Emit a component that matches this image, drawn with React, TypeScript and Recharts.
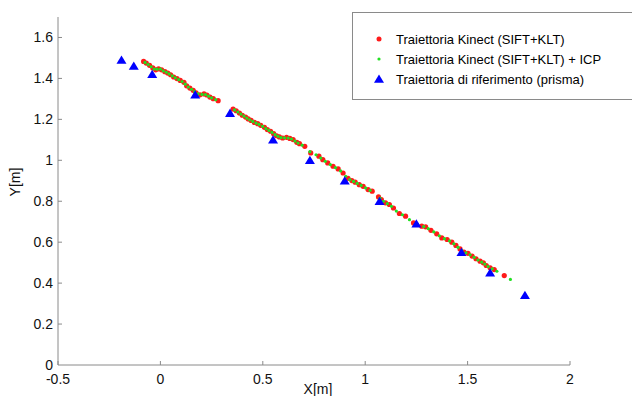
import React from "react";
import { Legend, Scatter, ScatterChart, XAxis, YAxis } from "recharts";

const FONT = '"Liberation Sans", Arial, sans-serif';
const AXIS_COLOR = "#8a8a8a";

const X_TICKS = [-0.5, 0, 0.5, 1, 1.5, 2];
const Y_TICKS = [0, 0.2, 0.4, 0.6, 0.8, 1, 1.2, 1.4, 1.6];

const SERIES_NAMES = [
  "Traiettoria Kinect (SIFT+KLT)",
  "Traiettoria Kinect (SIFT+KLT) + ICP",
  "Traiettoria di riferimento (prisma)",
];

// Traiettoria Kinect (SIFT+KLT)
const KINECT: [number, number][] = [
  [-0.082, 1.483], [-0.069, 1.475], [-0.053, 1.464], [-0.037, 1.451], [-0.023, 1.442],
  [-0.009, 1.447], [0.006, 1.442], [0.022, 1.433], [0.036, 1.426], [0.05, 1.418],
  [0.065, 1.407], [0.081, 1.399], [0.097, 1.39], [0.115, 1.381], [0.128, 1.364],
  [0.144, 1.353], [0.16, 1.342], [0.174, 1.329], [0.193, 1.32], [0.213, 1.324],
  [0.227, 1.319], [0.242, 1.309], [0.258, 1.301], [0.282, 1.291],
  [0.355, 1.25], [0.37, 1.242], [0.386, 1.231], [0.4, 1.22], [0.416, 1.211],
  [0.429, 1.202], [0.443, 1.195], [0.459, 1.185], [0.475, 1.179], [0.49, 1.171],
  [0.508, 1.161], [0.522, 1.15], [0.538, 1.142], [0.553, 1.13], [0.567, 1.12],
  [0.581, 1.114], [0.597, 1.109], [0.616, 1.112], [0.632, 1.107], [0.648, 1.101],
  [0.666, 1.088], [0.679, 1.081], [0.705, 1.068], [0.734, 1.036], [0.774, 1.02],
  [0.793, 1.003], [0.817, 0.987], [0.843, 0.971], [0.868, 0.958], [0.892, 0.938],
  [0.916, 0.912], [0.935, 0.901], [0.951, 0.893], [0.971, 0.881], [0.99, 0.873],
  [1.014, 0.857], [1.034, 0.849], [1.065, 0.821], [1.079, 0.808], [1.099, 0.792],
  [1.118, 0.784], [1.138, 0.767], [1.167, 0.74], [1.197, 0.727], [1.236, 0.694],
  [1.276, 0.678], [1.295, 0.675], [1.321, 0.658], [1.349, 0.641], [1.374, 0.621],
  [1.4, 0.613], [1.423, 0.6], [1.443, 0.584], [1.463, 0.567], [1.482, 0.551],
  [1.502, 0.545], [1.522, 0.532], [1.541, 0.519], [1.561, 0.507], [1.577, 0.499],
  [1.591, 0.486], [1.61, 0.475], [1.63, 0.466], [1.679, 0.437],
];

// Traiettoria Kinect (SIFT+KLT) + ICP
const KINECT_ICP: [number, number][] = [
  [-0.075, 1.478], [-0.06, 1.468], [-0.045, 1.457], [-0.03, 1.446], [-0.016, 1.445],
  [0.0, 1.446], [0.014, 1.437], [0.029, 1.43], [0.043, 1.422], [0.058, 1.412],
  [0.073, 1.403], [0.089, 1.394], [0.106, 1.385], [0.121, 1.372], [0.136, 1.358],
  [0.152, 1.347], [0.167, 1.335], [0.184, 1.324], [0.203, 1.322], [0.22, 1.321],
  [0.235, 1.313], [0.25, 1.305], [0.27, 1.296],
  [0.362, 1.246], [0.378, 1.236], [0.393, 1.226], [0.408, 1.216], [0.422, 1.206],
  [0.436, 1.198], [0.451, 1.19], [0.467, 1.182], [0.482, 1.175], [0.499, 1.166],
  [0.515, 1.155], [0.53, 1.146], [0.545, 1.136], [0.56, 1.125], [0.574, 1.117],
  [0.589, 1.111], [0.606, 1.11], [0.624, 1.109], [0.64, 1.104], [0.657, 1.094],
  [0.672, 1.084], [0.692, 1.074], [0.73, 1.042], [0.76, 1.027], [0.783, 1.011],
  [0.805, 0.995], [0.83, 0.979], [0.855, 0.964], [0.88, 0.948], [0.905, 0.922],
  [0.925, 0.906], [0.943, 0.897], [0.961, 0.887], [0.98, 0.877], [1.002, 0.865],
  [1.024, 0.853], [1.072, 0.815], [1.089, 0.8], [1.108, 0.788], [1.128, 0.775],
  [1.152, 0.752], [1.182, 0.734], [1.216, 0.71], [1.256, 0.686], [1.286, 0.676],
  [1.308, 0.666], [1.335, 0.65], [1.362, 0.631], [1.387, 0.617], [1.412, 0.606],
  [1.433, 0.592], [1.453, 0.575], [1.472, 0.559], [1.492, 0.548], [1.512, 0.538],
  [1.532, 0.526], [1.551, 0.513], [1.569, 0.503], [1.584, 0.493], [1.6, 0.481],
  [1.62, 0.47], [1.643, 0.458], [1.709, 0.418],
];

// Traiettoria di riferimento (prisma)
const PRISMA: [number, number][] = [
  [-0.19, 1.49], [-0.13, 1.46], [-0.04, 1.42], [0.17, 1.32], [0.34, 1.23],
  [0.55, 1.1], [0.73, 1.0], [0.9, 0.9], [1.07, 0.8], [1.25, 0.69],
  [1.47, 0.55], [1.61, 0.45], [1.78, 0.34],
];

const toPts = (a: [number, number][]) => a.map(([x, y]) => ({ x, y }));

const RedDot = (p: any) => <circle cx={p.cx} cy={p.cy} r={2.6} fill="#ff1a1a" />;
const GreenDot = (p: any) => <circle cx={p.cx} cy={p.cy} r={1.6} fill="#22e022" />;
const BlueTri = (p: any) => (
  <polygon
    points={`${p.cx},${p.cy - 4.6} ${p.cx - 5},${p.cy + 3.7} ${p.cx + 5},${p.cy + 3.7}`}
    fill="#0000ff"
  />
);

const XTick = ({ x, y, payload }: any) => (
  <g>
    <line x1={x} y1={y} x2={x} y2={y - 4} stroke={AXIS_COLOR} />
    <text x={x} y={y + 18.5} textAnchor="middle" fontSize={14} fontFamily={FONT} fill="#111">
      {String(payload.value)}
    </text>
  </g>
);

const YTick = ({ x, y, payload }: any) => (
  <g>
    {payload.value !== 0 && <line x1={x} y1={y} x2={x + 4} y2={y} stroke={AXIS_COLOR} />}
    <text x={x - 5} y={y + 4.5} textAnchor="end" fontSize={14} fontFamily={FONT} fill="#111">
      {String(payload.value)}
    </text>
  </g>
);

function LegendBox() {
  const rows = [
    <svg width={12} height={12}><circle cx={6} cy={6} r={2.5} fill="#ff1a1a" /></svg>,
    <svg width={12} height={12}><circle cx={6} cy={6} r={1.6} fill="#22e022" /></svg>,
    <svg width={12} height={12}><polygon points="6,1.5 1,9.8 11,9.8" fill="#0000ff" /></svg>,
  ];
  return (
    <div
      style={{
        position: "relative",
        width: 284,
        height: 88,
        boxSizing: "border-box",
        border: `1.5px solid ${AXIS_COLOR}`,
        background: "#fff",
        fontFamily: FONT,
        fontSize: 13,
        color: "#000",
      }}
    >
      {SERIES_NAMES.map((name, i) => (
        <div
          key={name}
          style={{ position: "absolute", left: 20, top: 18 + i * 20, height: 16, display: "flex", alignItems: "center" }}
        >
          {rows[i]}
          <span style={{ marginLeft: 11, whiteSpace: "nowrap" }}>{name}</span>
        </div>
      ))}
    </div>
  );
}

export default function App() {
  return (
    <div style={{ position: "absolute", left: 0, top: 0, width: 632, height: 396, overflow: "hidden", background: "#fff" }}>
      <ScatterChart width={632} height={396} margin={{ top: 17, right: 62, bottom: 0, left: 0 }}>
        <XAxis
          type="number"
          dataKey="x"
          domain={[-0.5, 2]}
          ticks={X_TICKS}
          height={31}
          stroke={AXIS_COLOR}
          tickLine={false}
          tickSize={0}
          tickMargin={0}
          tick={<XTick />}
          interval={0}
          label={{
            content: () => (
              <text x={318} y={394} textAnchor="middle" fontSize={14} fontFamily={FONT} fill="#111">
                X[m]
              </text>
            ),
          }}
        />
        <YAxis
          type="number"
          dataKey="y"
          domain={[0, 1.7]}
          ticks={Y_TICKS}
          width={58}
          stroke={AXIS_COLOR}
          tickLine={false}
          tickSize={0}
          tickMargin={0}
          tick={<YTick />}
          interval={0}
          label={{
            content: () => (
              <text
                x={20}
                y={182}
                transform="rotate(-90 20 182)"
                textAnchor="middle"
                fontSize={14}
                fontFamily={FONT}
                fill="#111"
              >
                Y[m]
              </text>
            ),
          }}
        />
        <Legend
          layout="horizontal"
          align="center"
          verticalAlign="middle"
          content={() => <LegendBox />}
          wrapperStyle={{ position: "absolute", left: 352, top: 12, width: 284, height: 88 }}
        />
        <Scatter name={SERIES_NAMES[0]} data={toPts(KINECT)} shape={RedDot} isAnimationActive={false} />
        <Scatter name={SERIES_NAMES[1]} data={toPts(KINECT_ICP)} shape={GreenDot} isAnimationActive={false} />
        <Scatter name={SERIES_NAMES[2]} data={toPts(PRISMA)} shape={BlueTri} isAnimationActive={false} />
      </ScatterChart>
    </div>
  );
}
